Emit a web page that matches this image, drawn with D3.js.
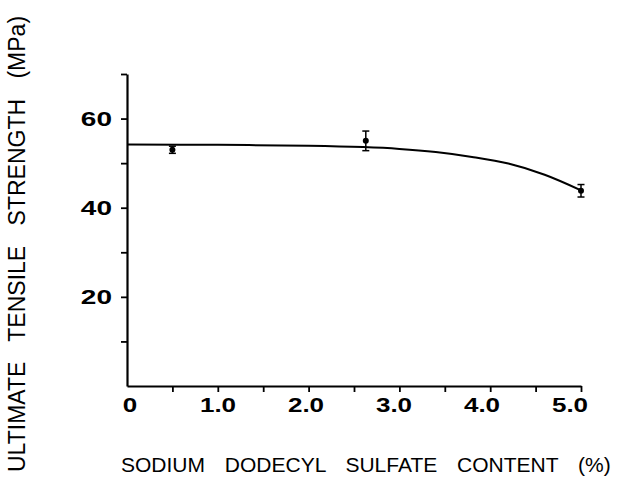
<!DOCTYPE html>
<html>
<head>
<meta charset="utf-8">
<script src="https://cdn.jsdelivr.net/npm/d3@7"></script>
<style>
  body { margin: 0; background: #fff; }
  svg { display: block; }
  text { font-family: "Liberation Sans", Arial, sans-serif; fill: #000; }
</style>
</head>
<body>
<svg id="chart" width="642" height="477"></svg>
<script>
// measured points (SDS content %, strength MPa, +/- error)
var sdsContent = [0.5, 2.63, 5.0];
var strength = [53.0, 55.0, 43.8];
var strengthErr = [0.8, 2.2, 1.4];
// fitted curve
var fitX = [0, 1.0, 2.0, 2.6, 3.0, 3.4, 3.8, 4.2, 4.6, 5.0];
var fitY = [54.2, 54.1, 53.9, 53.6, 53.2, 52.5, 51.4, 49.9, 47.4, 43.9];
// ticks and labels
var xTicks = [0.5, 1.0, 1.5, 2.0, 2.5, 3.0, 3.5, 4.0, 4.5, 5.0];
var xLabels = ['0', '1.0', '2.0', '3.0', '4.0', '5.0'];
var yTicks = [10, 20, 30, 40, 50, 60, 70];
var yLabels = [20, 40, 60];
var xTitle = 'SODIUM DODECYL SULFATE CONTENT (%)';
var yTitle = 'ULTIMATE TENSILE STRENGTH (MPa)';

var svg = d3.select('#chart');
var x = d3.scaleLinear().domain([0, 5]).range([127, 581]);
var y = d3.scaleLinear().domain([0, 70]).range([386, 74]);
// the lettering under the axis was set a little tighter than the ticks
var xLab = d3.scaleLinear().domain([0, 5]).range([130, 570]);

// axes, ticks only - labels are drawn by hand below
var xAxis = svg.append('g')
    .attr('transform', 'translate(0,' + y(0) + ')')
    .call(d3.axisBottom(x).tickValues(xTicks).tickSize(6).tickSizeOuter(0).tickFormat(''));
var yAxis = svg.append('g')
    .attr('transform', 'translate(' + x(0) + ',0)')
    .call(d3.axisLeft(y).tickValues(yTicks).tickSize(6).tickSizeOuter(0).tickFormat(''));
[xAxis, yAxis].forEach(function (g) {
    g.select('.domain').attr('stroke', '#000').attr('stroke-width', 2.2);
    g.selectAll('.tick line').attr('stroke', '#000').attr('stroke-width', 1.8);
});

// tick labels (old plotter lettering is wider than it is tall)
svg.selectAll('.xlab').data(xLabels).enter().append('text')
    .attr('class', 'xlab')
    .attr('transform', function (d, i) { return 'translate(' + xLab(i) + ',412) scale(1.3,1.05)'; })
    .attr('text-anchor', 'middle')
    .style('font-size', '20px')
    .style('font-weight', 'bold')
    .text(function (d) { return d; });

svg.selectAll('.ylab').data(yLabels).enter().append('text')
    .attr('class', 'ylab')
    .attr('transform', function (d) { return 'translate(112,' + (y(d) + 7) + ') scale(1.4,1.05)'; })
    .attr('text-anchor', 'end')
    .style('font-size', '20px')
    .style('font-weight', 'bold')
    .text(function (d) { return d; });

// axis titles
svg.append('text')
    .attr('transform', 'translate(121,472)')
    .style('font-size', '21px')
    .style('word-spacing', '14px')
    .text(xTitle);

svg.append('text')
    .attr('transform', 'translate(25,472) rotate(-90)')
    .style('font-size', '23px')
    .style('word-spacing', '14px')
    .text(yTitle);

// fitted curve
var fit = fitX.map(function (d, i) { return [d, fitY[i]]; });
svg.append('path')
    .datum(fit)
    .attr('fill', 'none')
    .attr('stroke', '#000')
    .attr('stroke-width', 2)
    .attr('d', d3.line()
        .x(function (d) { return x(d[0]); })
        .y(function (d) { return y(d[1]); })
        .curve(d3.curveCatmullRom));

// error bars and points
var pts = sdsContent.map(function (d, i) { return { x: d, y: strength[i], e: strengthErr[i] }; });
var pg = svg.selectAll('.pt').data(pts).enter().append('g').attr('class', 'pt');
pg.append('line')
    .attr('x1', function (d) { return x(d.x); })
    .attr('x2', function (d) { return x(d.x); })
    .attr('y1', function (d) { return y(d.y + d.e); })
    .attr('y2', function (d) { return y(d.y - d.e); })
    .attr('stroke', '#000').attr('stroke-width', 1.5);
[1, -1].forEach(function (s) {
    pg.append('line')
        .attr('x1', function (d) { return x(d.x) - 3.5; })
        .attr('x2', function (d) { return x(d.x) + 3.5; })
        .attr('y1', function (d) { return y(d.y + s * d.e); })
        .attr('y2', function (d) { return y(d.y + s * d.e); })
        .attr('stroke', '#000').attr('stroke-width', 1.5);
});
pg.append('circle')
    .attr('cx', function (d) { return x(d.x); })
    .attr('cy', function (d) { return y(d.y); })
    .attr('r', 3)
    .attr('fill', '#000');
</script>
</body>
</html>
